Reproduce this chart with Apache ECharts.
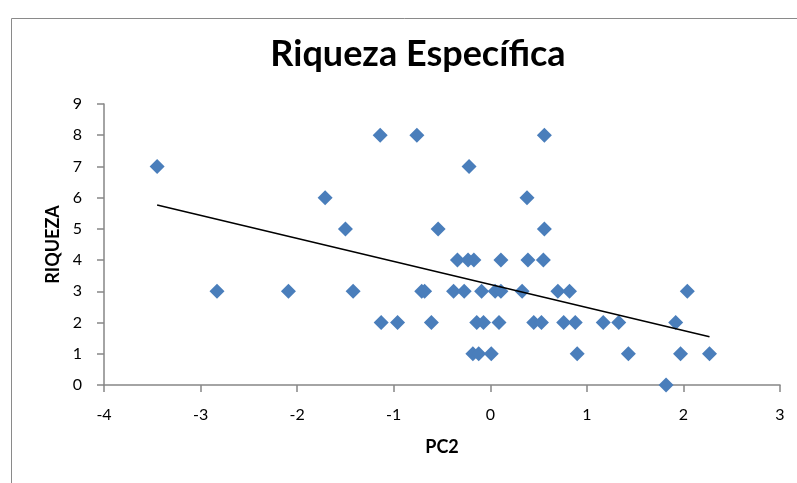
<!DOCTYPE html>
<html>
<head>
<meta charset="utf-8">
<script src="https://cdn.jsdelivr.net/npm/echarts@6/dist/echarts.min.js"></script>
<style>
  html, body { margin: 0; padding: 0; background: #ffffff; }
  #chart { width: 797px; height: 483px; }
</style>
</head>
<body>
<div id="chart"></div>
<script>
// PC2 scores and species richness (RIQUEZA) per sample
const pc2 = [
  -3.45, -0.22,
  -1.14, -0.76, 0.56,
  -1.71, 0.38,
  -1.50, -0.54, 0.56,
  -0.34, -0.23, -0.17, 0.11, 0.39, 0.55,
  -2.83, -2.09, -1.42, -0.71, -0.68, -0.38, -0.27, -0.09, 0.05, 0.11, 0.33, 0.70, 0.82, 2.04,
  -1.13, -0.96, -0.61, -0.14, -0.07, 0.09, 0.45, 0.53, 0.76, 0.88, 1.17, 1.33, 1.92,
  -0.18, -0.12, 0.01, 0.90, 1.43, 1.97, 2.27,
  1.82
];
const riqueza = [
  7, 7,
  8, 8, 8,
  6, 6,
  5, 5, 5,
  4, 4, 4, 4, 4, 4,
  3, 3, 3, 3, 3, 3, 3, 3, 3, 3, 3, 3, 3, 3,
  2, 2, 2, 2, 2, 2, 2, 2, 2, 2, 2, 2, 2,
  1, 1, 1, 1, 1, 1, 1,
  0
];
const xTicks = [-4, -3, -2, -1, 0, 1, 2, 3];
const yTicks = [0, 1, 2, 3, 4, 5, 6, 7, 8, 9];

const points = pc2.map((x, i) => [x, riqueza[i]]);

// least-squares linear trend over the data range
const n = pc2.length;
const mx = pc2.reduce((a, b) => a + b, 0) / n;
const my = riqueza.reduce((a, b) => a + b, 0) / n;
let sxy = 0, sxx = 0;
for (let i = 0; i < n; i++) {
  sxy += (pc2[i] - mx) * (riqueza[i] - my);
  sxx += (pc2[i] - mx) * (pc2[i] - mx);
}
const slope = sxy / sxx;
const intercept = my - slope * mx;
const x0 = Math.min(...pc2), x1 = Math.max(...pc2);
const trend = [[x0, intercept + slope * x0], [x1, intercept + slope * x1]];

const font = 'Lato, "Open Sans", sans-serif';
const axisGray = '#868686';

const chart = echarts.init(document.getElementById('chart'), null, { renderer: 'canvas' });
chart.setOption({
  animation: false,
  backgroundColor: '#ffffff',
  graphic: [{
    type: 'rect',
    shape: { x: 11.5, y: 18.5, width: 820, height: 520 },
    style: { fill: 'none', stroke: '#8a8a8a', lineWidth: 1 },
    silent: true
  }],
  title: {
    text: 'Riqueza Específica',
    left: 413,
    textAlign: 'center',
    top: 31,
    textStyle: { fontFamily: font, fontWeight: 'bold', fontSize: 36, color: '#000000' }
  },
  grid: { left: 104, right: 17, top: 104, bottom: 98, containLabel: false },
  xAxis: {
    type: 'value',
    min: xTicks[0],
    max: xTicks[xTicks.length - 1],
    interval: 1,
    name: 'PC2',
    nameLocation: 'middle',
    nameGap: 53,
    nameTextStyle: { fontFamily: font, fontWeight: 'bold', fontSize: 18, color: '#000000' },
    axisLine: { onZero: false, lineStyle: { color: axisGray, width: 1.5 } },
    axisTick: { show: true, inside: false, length: 7, lineStyle: { color: axisGray, width: 1.5 } },
    axisLabel: { fontFamily: font, fontSize: 16, color: '#000000', margin: 22 },
    splitLine: { show: false }
  },
  yAxis: {
    type: 'value',
    min: yTicks[0],
    max: yTicks[yTicks.length - 1],
    interval: 1,
    name: 'RIQUEZA',
    nameLocation: 'middle',
    nameGap: 41,
    nameRotate: 90,
    nameTextStyle: { fontFamily: font, fontWeight: 'bold', fontSize: 18, color: '#000000' },
    axisLine: { show: true, onZero: false, lineStyle: { color: axisGray, width: 1.5 } },
    axisTick: { show: true, inside: false, length: 7, lineStyle: { color: axisGray, width: 1.5 } },
    axisLabel: { fontFamily: font, fontSize: 16, color: '#000000', margin: 22 },
    splitLine: { show: false }
  },
  series: [
    {
      name: 'RIQUEZA',
      type: 'scatter',
      symbol: 'diamond',
      symbolSize: 15,
      itemStyle: { color: '#4A7EBB', opacity: 1 },
      data: points,
      z: 2
    },
    {
      name: 'Lineal',
      type: 'line',
      data: trend,
      symbol: 'none',
      lineStyle: { color: '#000000', width: 1.5 },
      z: 3
    }
  ]
});
</script>
</body>
</html>
